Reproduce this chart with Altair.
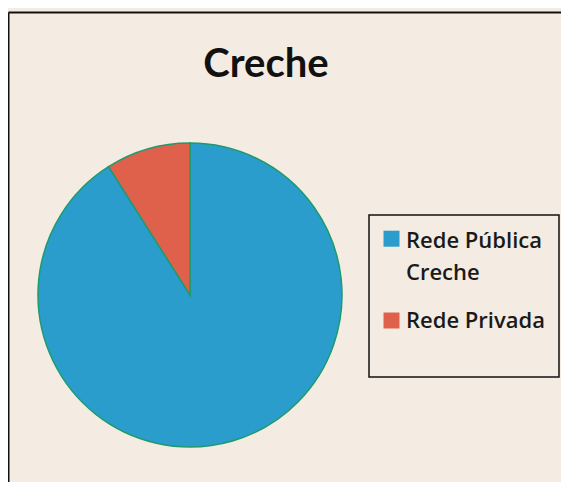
import altair as alt
import pandas as pd

categories = ["Rede Pública\nCreche", "Rede Privada"]
values = [91, 9]
colors = ["#2b9dcd", "#e0614b"]
title_text = "Creche"

df = pd.DataFrame({"categoria": categories, "valor": values, "ordem": [0, 1]})

W, H = 553, 474
color_scale = alt.Scale(domain=categories, range=colors)

pie = alt.Chart(df).mark_arc(stroke="#1f9a6e", strokeWidth=1.5).encode(
    theta=alt.Theta("valor:Q", stack=True),
    color=alt.Color("categoria:N", scale=color_scale, legend=None),
    order=alt.Order("ordem:Q"),
    x=alt.value(182),
    y=alt.value(287),
    radius=alt.value(152),
)

title = alt.Chart(pd.DataFrame({"t": [title_text]})).mark_text(
    font="Lato", fontWeight="bold", fontSize=40, color="#111111",
    align="center", baseline="alphabetic"
).encode(text="t:N", x=alt.value(258), y=alt.value(69))

top_rule = alt.Chart(pd.DataFrame({"a": [0]})).mark_rule(
    stroke="#111111", strokeWidth=2
).encode(x=alt.value(0.5), x2=alt.value(W), y=alt.value(4.5))

left_rule = alt.Chart(pd.DataFrame({"a": [0]})).mark_rule(
    stroke="#111111", strokeWidth=2
).encode(x=alt.value(0.5), y=alt.value(4.5), y2=alt.value(H))

legend_box = alt.Chart(pd.DataFrame({"a": [0]})).mark_rect(
    fill=None, stroke="#111111", strokeWidth=1.5
).encode(x=alt.value(361), x2=alt.value(551), y=alt.value(207), y2=alt.value(369))

legend_sq = alt.Chart(df).mark_square(size=256, opacity=1, filled=True).encode(
    x=alt.value(383.5),
    y=alt.Y("categoria:N", sort=categories, axis=None,
            scale=alt.Scale(type="point", padding=0, range=[230.7, 312.5])),
    color=alt.Color("categoria:N", scale=color_scale, legend=None),
)

legend_txt = alt.Chart(df).mark_text(
    font="Open Sans", fontWeight=600, fontSize=22, color="#1a1a1a",
    align="left", baseline="alphabetic", lineBreak="\n", lineHeight=32
).encode(
    x=alt.value(398),
    y=alt.Y("categoria:N", sort=categories, axis=None,
            scale=alt.Scale(type="point", padding=0, range=[240, 320])),
    text="categoria:N",
)

chart = alt.layer(top_rule, left_rule, pie, title, legend_box, legend_sq, legend_txt).resolve_scale(
    y="independent"
).properties(
    width=W, height=H, padding=0, autosize=alt.AutoSizeParams(type="none"),
    background="#f4ece2"
).configure_view(stroke=None)

chart.save("out.html", embed_options={"renderer": "svg", "actions": False})
